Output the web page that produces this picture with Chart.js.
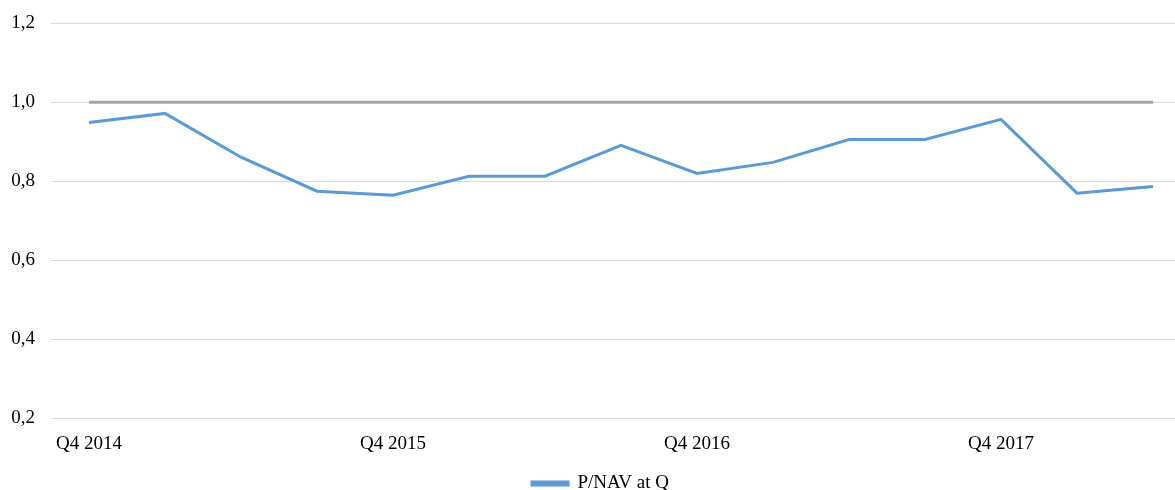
<!DOCTYPE html>
<html>
<head>
<meta charset="utf-8">
<script src="https://cdn.jsdelivr.net/npm/chart.js@4/dist/chart.umd.min.js"></script>
<style>
  html, body { margin: 0; padding: 0; overflow: hidden; background: #fff; }
  #wrap { position: relative; width: 1224px; height: 507px; margin-top: -4px; }
</style>
</head>
<body>
<div id="wrap"><canvas id="myChart"></canvas></div>
<script>
const quarters = [
  'Q4 2014', 'Q1 2015', 'Q2 2015', 'Q3 2015', 'Q4 2015',
  'Q1 2016', 'Q2 2016', 'Q3 2016', 'Q4 2016',
  'Q1 2017', 'Q2 2017', 'Q3 2017', 'Q4 2017',
  'Q1 2018', 'Q2 2018'
];
const pnav = [0.949, 0.972, 0.861, 0.775, 0.765, 0.813, 0.813, 0.891, 0.82, 0.848, 0.906, 0.906, 0.957, 0.77, 0.787];
const parLine = [1, 1, 1, 1, 1, 1, 1, 1, 1, 1, 1, 1, 1, 1, 1];
const yTicks = [0.2, 0.4, 0.6, 0.8, 1.0, 1.2];

let config = "";
let myChart;

function initializeGraphic()
{
  const data = {
    labels: quarters,
    datasets: [{
      label: 'P/NAV at Q',
      borderColor: '#5b9bd5',
      backgroundColor: '#5b9bd5',
      borderWidth: 3,
      pointRadius: 0,
      tension: 0,
      data: pnav
    }, {
      label: 'par',
      borderColor: '#a5a5a5',
      backgroundColor: '#a5a5a5',
      borderWidth: 3,
      pointRadius: 0,
      data: parLine
    }]
  };

  const font = { family: '"Liberation Serif", "Times New Roman", serif', size: 19 };

  config = {
    type: 'line',
    data: data,
    options: {
      responsive: true,
      maintainAspectRatio: false,
      animation: false,
      layout: { padding: { top: 8, left: 10, right: 33, bottom: 0 } },
      plugins: {
        tooltip: { enabled: false },
        legend: {
          position: 'bottom',
          labels: {
            color: '#000',
            font: font,
            boxWidth: 36,
            boxHeight: 3,
            padding: 1,
            filter: (item) => item.datasetIndex === 0
          }
        }
      },
      scales: {
        x: {
          offset: true,
          grid: { display: false },
          border: { display: false },
          afterFit: (scale) => { scale.height += 12; },
          ticks: {
            color: '#000',
            font: font,
            autoSkip: false,
            maxRotation: 0,
            padding: 6,
            callback: function (value, index) {
              return index % 4 === 0 ? quarters[index] : '';
            }
          }
        },
        y: {
          min: yTicks[0],
          max: yTicks[yTicks.length - 1],
          grid: { color: '#d9d9d9', lineWidth: 1, drawTicks: false },
          border: { display: false },
          afterFit: (scale) => { scale.width = 41; },
          afterBuildTicks: (scale) => { scale.ticks = yTicks.map(v => ({ value: v })); },
          ticks: {
            color: '#000',
            font: font,
            padding: 16,
            callback: (value) => value.toFixed(1).replace('.', ',')
          }
        }
      }
    }
  };
}

function drawGraphic()
{
  let ctx = document.getElementById('myChart').getContext("2d");

  if (myChart) {
    myChart.destroy();
  }

  myChart = new Chart(ctx, config);
}

initializeGraphic();
drawGraphic();
</script>
</body>
</html>
